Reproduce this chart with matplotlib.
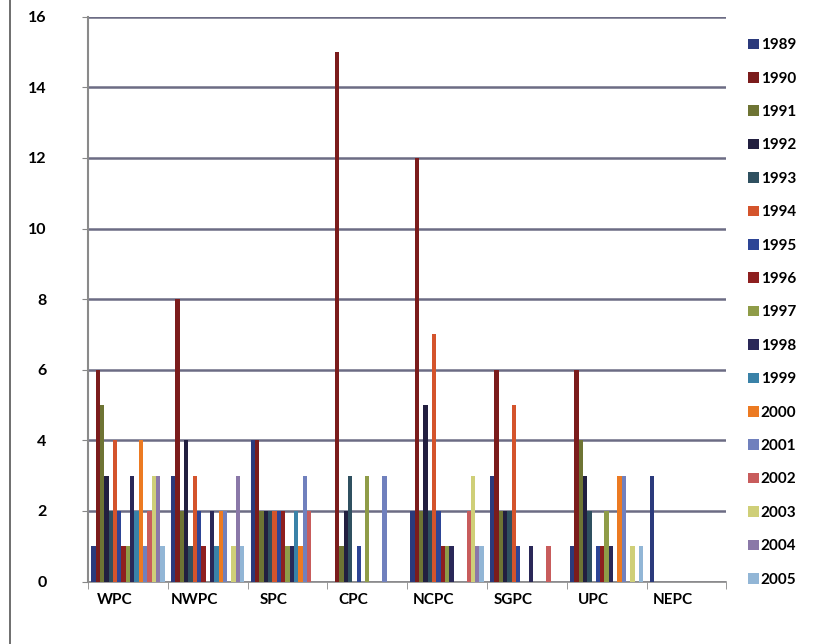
import numpy as np
import matplotlib
matplotlib.use("Agg")
import matplotlib.pyplot as plt
from matplotlib.lines import Line2D

# regions on the x axis
regions = ["WPC", "NWPC", "SPC", "CPC", "NCPC", "SGPC", "UPC", "NEPC"]
years = [str(y) for y in range(1989, 2006)]

# one list per region, values for 1989..2005
wpc  = [1, 6, 5, 3, 2, 4, 2, 1, 1, 3, 2, 4, 1, 2, 3, 3, 1]
nwpc = [3, 8, 2, 4, 1, 3, 2, 1, 0, 2, 1, 2, 2, 0, 1, 3, 1]
spc  = [4, 4, 2, 2, 2, 2, 2, 2, 1, 1, 2, 1, 3, 2, 0, 0, 0]
cpc  = [0, 15, 1, 2, 3, 0, 1, 0, 3, 0, 0, 0, 3, 0, 0, 0, 0]
ncpc = [2, 12, 2, 5, 2, 7, 2, 1, 1, 1, 0, 0, 0, 2, 3, 1, 1]
sgpc = [3, 6, 2, 2, 2, 5, 1, 0, 0, 1, 0, 0, 0, 1, 0, 0, 0]
upc  = [1, 6, 4, 3, 2, 0, 1, 1, 2, 1, 0, 3, 3, 0, 1, 0, 1]
nepc = [3, 0, 0, 0, 0, 0, 0, 0, 0, 0, 0, 0, 0, 0, 0, 0, 0]

data = np.array([wpc, nwpc, spc, cpc, ncpc, sgpc, upc, nepc]).T  # years x regions

colors = ['#2b3a7c', '#7b1c1c', '#6e7434', '#221f40', '#2f5060', '#d4542c',
          '#2d4596', '#8e1f1f', '#8f9c48', '#2a2858', '#3a82a8', '#ec7a22',
          '#7080bd', '#c85c5c', '#cfcf78', '#8a78a8', '#92b6d6']

plt.rcParams['font.family'] = ['Lato', 'DejaVu Sans']

fig = plt.figure(figsize=(8.31, 6.44), dpi=100)
ax = fig.add_axes([0.106, 0.097, 0.768, 0.877])

x = np.arange(len(regions))
n = len(years)
gw = 0.92
w = gw / n
for i in range(n):
    ax.bar(x - gw / 2 + w * (i + 0.5), data[i], width=w, color=colors[i],
           label=years[i], zorder=3)

ax.set_xlim(-0.5, len(regions) - 0.5)
ax.set_ylim(0, 16)
ax.set_yticks(range(0, 17, 2))
ax.yaxis.grid(True, color='#6c6c84', linewidth=1.8, zorder=0)
ax.set_axisbelow(True)

ax.set_xticks(x - 0.17)
ax.set_xticklabels(regions, fontsize=11, fontweight='bold')
ax.set_xticks(np.arange(len(regions) + 1) - 0.5, minor=True)
ax.tick_params(axis='x', which='major', length=0, pad=8)
ax.tick_params(axis='x', which='minor', length=5, color='#888888')
ax.tick_params(axis='y', length=4, color='#888888', pad=26)
for lab in ax.get_yticklabels():
    lab.set_fontsize(11.5)
    lab.set_fontweight('bold')

for s in ['top', 'right']:
    ax.spines[s].set_visible(False)
ax.spines['left'].set_color('#8a8a8a')
ax.spines['left'].set_linewidth(1.5)
ax.spines['bottom'].set_color('#8a8a8a')
ax.spines['bottom'].set_linewidth(1.2)

leg = fig.legend(loc='upper left', bbox_to_anchor=(0.884, 0.962), frameon=False,
                 handlelength=0.7, handleheight=0.7, handletextpad=0.1,
                 labelspacing=1.27, prop={'size': 11, 'weight': 'bold'})

# scan border on the left
fig.add_artist(Line2D([0.012, 0.012], [0.0, 1.0], color='#555555', linewidth=1.2))

fig.savefig("out.png", dpi=100)
